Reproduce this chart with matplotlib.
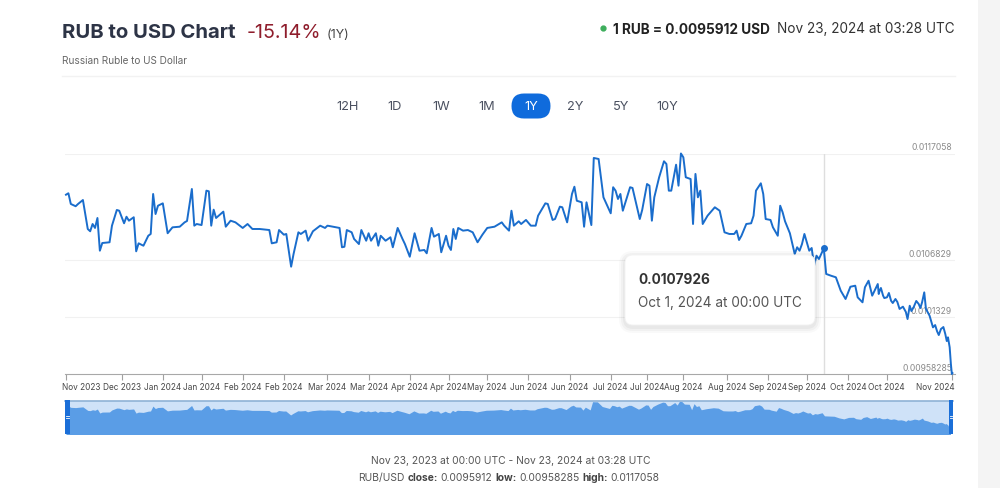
import numpy as np
import pandas as pd
import matplotlib
matplotlib.use("Agg")
import matplotlib.pyplot as plt
from matplotlib.patches import FancyBboxPatch, Rectangle
from matplotlib.transforms import ScaledTranslation

plt.rcParams['font.family'] = ['Inter', 'DejaVu Sans']

# ---- data ----
start = pd.Timestamp('2023-11-23 00:00')

# days after Nov 23, 2023 00:00 UTC
day_offsets = [
    0, 1, 2, 4, 5, 7, 9, 10, 11, 12, 13, 14, 15, 18, 19, 21, 22, 24, 25, 26,
    28, 29, 30, 32, 34, 35, 36, 37, 38, 40, 42, 44, 47, 49, 50, 52, 53, 54, 56, 58,
    59, 60, 61, 62, 65, 66, 68, 70, 73, 75, 77, 80, 84, 85, 87, 88, 90, 91, 93, 94,
    96, 97, 99, 100, 102, 105, 107, 108, 113, 114, 115, 116, 118, 119, 121, 122, 124, 125, 126, 128,
    129, 130, 132, 134, 135, 137, 139, 140, 142, 144, 146, 148, 149, 151, 152, 154, 155, 157, 158, 159,
    160, 161, 162, 164, 166, 168, 170, 172, 174, 177, 180, 181, 183, 184, 185, 187, 188, 190, 192, 194,
    195, 198, 199, 201, 202, 204, 205, 207, 209, 210, 211, 213, 214, 215, 217, 218, 220, 222, 225, 226,
    227, 228, 229, 230, 233, 234, 237, 238, 240, 241, 242, 243, 245, 247, 248, 249, 250, 252, 253, 254,
    255, 256, 258, 259, 260, 261, 262, 263, 265, 268, 270, 272, 274, 276, 277, 278, 279, 281, 283, 284,
    285, 287, 288, 289, 291, 292, 294, 295, 296, 297, 299, 301, 302, 303, 304, 305, 307, 308, 309, 310,
    311, 313, 314, 316, 318, 320, 322, 324, 326, 327, 329, 330, 331.5, 333, 334.7, 335.3, 335.7, 336.1, 336.6, 337.5,
    338.0, 339.1, 339.9, 340.8, 341.5, 342.6, 343.4, 344.3, 345.7, 346.9, 347.6, 348.5, 349.2, 350.1, 351.2, 352.2,
    352.9, 353.6, 354.5, 355.2, 356.7, 358.1, 359.0, 359.8, 360.5, 361.4, 362.4, 363.2, 363.8, 364.3, 365.0, 365.5,
    365.9, 366.144,
]

# RUB/USD rate
rates = [
    0.011309, 0.011323, 0.011220, 0.011198, 0.011220, 0.011258, 0.010979, 0.010957, 0.011027, 0.010989,
    0.011085, 0.010770, 0.010844, 0.010851, 0.011011, 0.011162, 0.011155, 0.011034, 0.011097, 0.011059,
    0.011092, 0.010764, 0.010841, 0.010818, 0.010914, 0.010931, 0.011316, 0.011123, 0.011203, 0.011226,
    0.010938, 0.010995, 0.011001, 0.011043, 0.011056, 0.011364, 0.011011, 0.011027, 0.011017, 0.011348,
    0.011342, 0.011011, 0.011165, 0.011085, 0.011146, 0.011001, 0.011059, 0.011043, 0.010989, 0.011027,
    0.010979, 0.010979, 0.010969, 0.010841, 0.010851, 0.010969, 0.010924, 0.010931, 0.010616, 0.010738,
    0.010947, 0.010931, 0.010963, 0.010866, 0.010957, 0.011011, 0.010989, 0.011011, 0.010989, 0.010803,
    0.010808, 0.010969, 0.010947, 0.010883, 0.010834, 0.010969, 0.010866, 0.010938, 0.010866, 0.010938,
    0.010818, 0.010914, 0.010866, 0.010899, 0.010803, 0.010989, 0.010883, 0.010834, 0.010712, 0.010938,
    0.010770, 0.010777, 0.010745, 0.010989, 0.010905, 0.010931, 0.010755, 0.010914, 0.010818, 0.010777,
    0.010979, 0.010883, 0.010989, 0.010963, 0.010969, 0.010947, 0.010851, 0.010924, 0.010989, 0.011001,
    0.011043, 0.011011, 0.010963, 0.011155, 0.011011, 0.011053, 0.011027, 0.011066, 0.011011, 0.011011,
    0.011107, 0.011226, 0.011220, 0.011066, 0.011075, 0.011194, 0.011188, 0.011043, 0.011316, 0.011386,
    0.011251, 0.011236, 0.011001, 0.011236, 0.011017, 0.011663, 0.011653, 0.011284, 0.011130, 0.011381,
    0.011348, 0.011268, 0.011316, 0.011155, 0.011381, 0.011374, 0.011075, 0.011162, 0.011412, 0.011396,
    0.011059, 0.011284, 0.011477, 0.011631, 0.011605, 0.011348, 0.011348, 0.011598, 0.011396, 0.011706,
    0.011669, 0.011477, 0.011460, 0.011027, 0.011509, 0.011284, 0.011348, 0.011027, 0.011107, 0.011188,
    0.011155, 0.010947, 0.010931, 0.010931, 0.010963, 0.010873, 0.010914, 0.011027, 0.011034, 0.011107,
    0.011348, 0.011419, 0.011316, 0.011075, 0.011066, 0.010995, 0.010914, 0.011203, 0.011140, 0.011053,
    0.010938, 0.010738, 0.010803, 0.010770, 0.010834, 0.010931, 0.010770, 0.010796, 0.010626, 0.010722,
    0.010690, 0.0107926, 0.010546, 0.010529, 0.010514, 0.010385, 0.010305, 0.010423, 0.010433, 0.010321,
    0.010273, 0.010418, 0.010481, 0.010337, 0.010418, 0.010449, 0.010353, 0.010385, 0.010411, 0.010337,
    0.010314, 0.010321, 0.010363, 0.010288, 0.010266, 0.010305, 0.010276, 0.010209, 0.010231, 0.010180,
    0.010112, 0.010240, 0.010189, 0.010225, 0.010286, 0.010257, 0.010218, 0.010273, 0.010369, 0.010209,
    0.010144, 0.010032, 0.010054, 0.009994, 0.009958, 0.010016, 0.010035, 0.009967, 0.009900, 0.009936,
    0.009840, 0.009679, 0.00958285, 0.0095912,
]

close_rate = '0.0095912'
low_rate = '0.00958285'
high_rate = '0.0117058'
change_text = '-15.14%'

tooltip_date = pd.Timestamp('2024-10-01 00:00')
tooltip_rate = 0.0107926

ytick_values = [0.00958285, 0.0101329, 0.0106829, 0.0117058]
ytick_labels = ['0.00958285', '0.0101329', '0.0106829', '0.0117058']

xtick_dates = ['2023-11-23', '2023-12-16', '2024-01-02', '2024-01-18', '2024-02-04', '2024-02-21',
               '2024-03-10', '2024-03-27', '2024-04-13', '2024-04-29', '2024-05-15', '2024-06-01',
               '2024-06-18', '2024-07-05', '2024-07-20', '2024-08-04', '2024-08-22', '2024-09-08',
               '2024-09-24', '2024-10-11', '2024-10-27', '2024-11-23']

range_buttons = ['12H', '1D', '1W', '1M', '1Y', '2Y', '5Y', '10Y']
active_button = '1Y'

# ---- styles ----
LINE = '#1a6dcc'
DARK = '#2d3446'

W, H = 1000, 489
fig = plt.figure(figsize=(W / 100, H / 100), dpi=100)
fig.patch.set_facecolor('white')

dates = start + pd.to_timedelta(day_offsets, unit='D')
x_lo = start - pd.Timedelta(days=0.4)
x_hi = start + pd.Timedelta(days=367.2)


def px_axes(left, top, right, bottom, **kw):
    return fig.add_axes([left / W, 1 - bottom / H, (right - left) / W, (bottom - top) / H], **kw)


# ---- main chart ----
ax = px_axes(65, 154.5, 955, 375)
ax.set_facecolor('none')
ax.plot(dates, rates, color=LINE, lw=1.4, zorder=3, clip_on=False, solid_joinstyle='round')
ax.set_xlim(x_lo, x_hi)
ax.set_ylim(ytick_values[0], ytick_values[-1])

for v, lab in zip(ytick_values, ytick_labels):
    if v != ytick_values[0]:
        ax.axhline(v, color='#f1f1f1', lw=0.8, zorder=0)
    ax.annotate(lab, xy=(0.9966, v), xycoords=ax.get_yaxis_transform(),
                xytext=(0, 1.5), textcoords='offset points', ha='right', va='bottom',
                fontsize=6.2, color='#8a8a8a', zorder=1)

ax.axvline(tooltip_date, color='#dedede', lw=1, zorder=2)
ax.plot([tooltip_date], [tooltip_rate], 'o', ms=4, color=LINE, zorder=4, clip_on=False)

for side in ['top', 'left', 'right']:
    ax.spines[side].set_visible(False)
ax.spines['bottom'].set_color('#a8a8a8')
ax.spines['bottom'].set_linewidth(0.8)
ax.set_yticks([])
tick_pos = pd.to_datetime(xtick_dates)
ax.set_xticks(tick_pos)
ax.set_xticklabels([d.strftime('%b %Y') for d in tick_pos])
ax.tick_params(axis='x', length=4, width=0.8, color='#a0a0a0', labelsize=5.95,
               labelcolor='#474747', pad=2)
labels = ax.get_xticklabels()
labels[0].set_horizontalalignment('left')
labels[0].set_transform(labels[0].get_transform() + ScaledTranslation(-4 / 100, 0, fig.dpi_scale_trans))
labels[-1].set_horizontalalignment('right')
labels[-1].set_transform(labels[-1].get_transform() + ScaledTranslation(3 / 100, 0, fig.dpi_scale_trans))

# ---- navigator ----
nav = px_axes(65, 401.5, 953, 435)
nav.set_facecolor('#cfe2f8')
nav.fill_between(dates, rates, 0.009, color='#5a9de6', lw=0)
nav.set_xlim(x_lo, x_hi)
nav.set_ylim(0.00911, 0.01176)
nav.set_xticks([])
nav.set_yticks([])
for side in ['left', 'right', 'bottom']:
    nav.spines[side].set_visible(False)
nav.spines['top'].set_color('#8fb2d6')
nav.spines['top'].set_linewidth(1.2)

# ---- overlay for header, buttons, tooltip, footer ----
ov = fig.add_axes([0, 0, 1, 1], zorder=10)
ov.set_xlim(0, W)
ov.set_ylim(H, 0)
ov.axis('off')
ov.patch.set_alpha(0)

fig.canvas.draw()
renderer = fig.canvas.get_renderer()


def rich(x, y, parts, ha='left', va='baseline'):
    texts = []
    widths = []
    for s, gap, kw in parts:
        t = ov.text(0, y, s, ha='left', va=va, **kw)
        texts.append((t, gap))
        widths.append(t.get_window_extent(renderer=renderer).width)
    total = sum(widths) + sum(g for _, g in texts[1:])
    cur = x - total / 2 if ha == 'center' else x
    for i, ((t, gap), w) in enumerate(zip(texts, widths)):
        if i > 0:
            cur += gap
        t.set_x(cur)
        cur += w


# header
rich(62, 38, [
    ('RUB to USD Chart', 0, dict(fontsize=14.6, fontweight='bold', color=DARK)),
    (change_text, 11, dict(fontsize=14.2, color='#8f1d2c')),
    ('(1Y)', 5, dict(fontsize=9, color='#444444')),
])
ov.text(62, 64, 'Russian Ruble to US Dollar', fontsize=7.2, color='#666666', va='baseline')
ov.plot([62, 955], [77, 77], color='#f2f2f2', lw=1)

ov.plot([603], [29], 'o', ms=3.5, color='#3dae5c')
ov.text(955, 33.5, 'Nov 23, 2024 at 03:28 UTC', fontsize=9.8, color='#333333',
        ha='right', va='baseline')
ov.text(613, 33.5, f'1 RUB = {close_rate} USD', fontsize=9.8, fontweight='bold',
        color='#222222', ha='left', va='baseline')

# range buttons
button_x = [348, 395, 441, 487, 531, 575, 621, 667]
for bx, name in zip(button_x, range_buttons):
    if name == active_button:
        ov.add_patch(FancyBboxPatch((bx - 19.5, 94.5), 39, 25,
                                    boxstyle='round,pad=0,rounding_size=12.5',
                                    fc='#0f6bdc', ec='none'))
        ov.text(bx, 107, name, fontsize=9.2, color='white', ha='center', va='center')
    else:
        ov.text(bx, 107, name, fontsize=9.2, color='#4a5060', ha='center', va='center')

# tooltip
for i, a in enumerate([0.025, 0.03, 0.035]):
    g = 6 - 2 * i
    ov.add_patch(FancyBboxPatch((625 - g, 256 - g + 2), 190 + 2 * g, 70 + 2 * g,
                                boxstyle='round,pad=0,rounding_size=%d' % (8 + g),
                                fc='black', ec='none', alpha=a))
ov.add_patch(FancyBboxPatch((625, 256), 190, 70, boxstyle='round,pad=0,rounding_size=8',
                            fc='white', ec='#f3f3f3', lw=0.6))
ov.text(638, 280, f'{tooltip_rate:.7f}', fontsize=9.8, fontweight='bold', color='#333333',
        va='center')
ov.text(638, 303, tooltip_date.strftime('%b ') + str(tooltip_date.day) + ', 2024 at 00:00 UTC',
        fontsize=9.8, color='#555555', va='center')

# navigator handles
for hx in [65, 948.5]:
    ov.add_patch(Rectangle((hx, 401), 4.5, 34, fc='#1b6fd8', ec='none'))
    ov.plot([hx + 1, hx + 3.5], [416.5, 416.5], color='white', lw=0.6)
    ov.plot([hx + 1, hx + 3.5], [418.5, 418.5], color='white', lw=0.6)

# footer
ov.text(511, 461, 'Nov 23, 2023 at 00:00 UTC - Nov 23, 2024 at 03:28 UTC', fontsize=7.4,
        color='#555555', ha='center', va='center')
fk = dict(fontsize=7.4, color='#555555')
fb = dict(fontsize=7.4, color='#444444', fontweight='bold')
rich(509, 478, [
    ('RUB/USD', 0, fk), ('close:', 3, fb), (close_rate, 2.5, fk),
    ('low:', 3, fb), (low_rate, 2.5, fk), ('high:', 3, fb), (high_rate, 2.5, fk),
], ha='center', va='center')

# page edge
ov.add_patch(Rectangle((978, 0), 22, H, fc='#f4f4f4', ec='none'))

fig.savefig('out.png', dpi=100)
